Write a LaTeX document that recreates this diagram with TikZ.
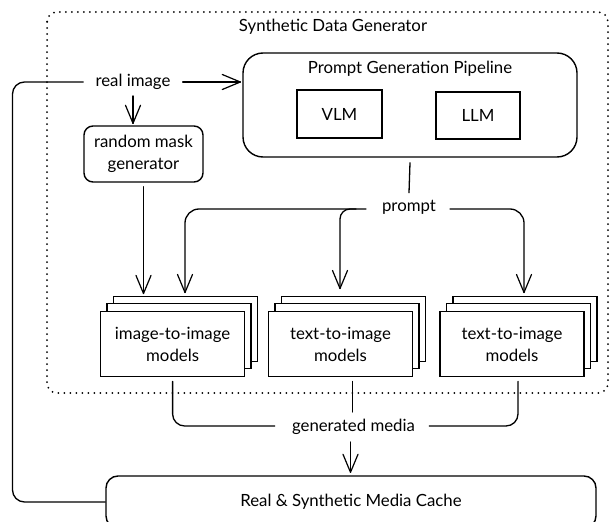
\documentclass[tikz,border=0pt]{standalone}
\usepackage{fontspec}
\setmainfont{Lato}
\usetikzlibrary{calc}
\newcommand\lblsize{\fontsize{16.8}{22}\selectfont}
\begin{document}
\begin{tikzpicture}[x=1pt,y=-1pt,
  line/.style={line width=1.3pt, line join=round, line cap=round},
  vhead/.pic={\draw[line width=1.2pt, line cap=round, line join=round] (-18,-7.5) -- (0,0) -- (-18,7.5);},
  txt/.style={font=\lblsize, inner sep=0pt, text=black},
  rbox/.style={draw, line width=1.4pt, rounded corners=9pt, align=center, font=\lblsize, inner sep=0pt},
  sqbox/.style={draw, line width=1.4pt, align=center, font=\lblsize, inner sep=0pt},
  stackbox/.style={draw, line width=1.4pt, fill=white, minimum width=144pt, minimum height=65pt, inner sep=0pt, align=center, font=\lblsize},
]
\clip (0,0) rectangle (611,522);
\useasboundingbox (0,0) rectangle (611,522);

% outer dotted region
\draw[line width=2pt, line cap=round, dash pattern=on 0pt off 6pt, rounded corners=10pt]
  (47,12) rectangle (608,393);
\node[txt] (sdg) at (333,27) {Synthetic Data Generator};

% prompt generation pipeline
\node[rbox, rounded corners=20pt, minimum width=334pt, minimum height=104pt] (pgp) at (410,105) {};
\node[txt] (pgptitle) at (410,69) {Prompt Generation Pipeline};
\node[sqbox, minimum width=85pt, minimum height=48pt] (vlm) at (339.5,114) {VLM};
\node[sqbox, minimum width=84pt, minimum height=47pt] (llm) at (478,115.5) {LLM};

% inputs
\node[txt] (real) at (133,82) {real image};
\node[rbox, minimum width=119pt, minimum height=56pt] (mask) at (143.5,154) {random mask\\generator};

% model stacks
\foreach \n/\cx/\t in {i2i/172.6/image-to-image, tA/340.5/text-to-image, tB/512/text-to-image}{
  \node[stackbox] (\n-b) at (\cx+13,328.7) {};
  \node[stackbox] (\n-m) at (\cx+6.5,336.2) {};
  \node[stackbox] (\n) at (\cx,344.2) {\t\\models};
}

% prompt fan-out
\node[txt] (prompt) at (409,207) {prompt};
\coordinate (pgpout) at ($(pgp.south)+(0,5)$);
\coordinate (pin) at ($(prompt.north)+(0,-7)$);
\draw[line] (pgpout) -- (pin);
\coordinate (pL) at ($(prompt.west)+(-16,2)$);
\coordinate (pM) at ($(prompt.west)+(-26,2)$);
\coordinate (pR) at ($(prompt.east)+(14,2)$);
\coordinate (tipL) at ($(i2i-b.north -| 185,0)+(0,-3)$);
\coordinate (tipM) at ($(tA-b.north -| 340,0)+(0,-7)$);
\coordinate (tipR) at ($(tB-b.north -| 524,0)+(0,-3)$);
\draw[line, rounded corners=14pt] (pL) -- (pL -| tipL) -- (tipL);
\draw[line, rounded corners=10pt] (pM) -- (pM -| tipM) -- (tipM);
\draw[line, rounded corners=14pt] (pR) -- (pR -| tipR) -- (tipR);
\pic[rotate=-90] at (tipL) {vhead};
\pic[rotate=-90] at (tipM) {vhead};
\pic[rotate=-90] at (tipR) {vhead};

% real image paths
\coordinate (realout) at ($(real.east)+(12,0)$);
\coordinate (realtip) at ($(realout -| pgp.west)+(-2,0)$);
\draw[line] (realout) -- (realtip);
\pic at (realtip) {vhead};
\coordinate (realdown) at ($(real.south)+(0,6)$);
\coordinate (masktip) at ($(realdown |- mask.north)+(0,-2)$);
\draw[line] (realdown) -- (masktip);
\pic[rotate=-90] at (masktip) {vhead};
\coordinate (maskout) at ($(mask.south)+(0,4)$);
\coordinate (maskin) at ($(mask.south |- i2i-b.north)+(0,-2)$);
\draw[line] (maskout) -- (maskin);
\pic[rotate=-90] at (maskin) {vhead};

% generated media
\node[txt] (gen) at (353.5,427) {generated media};
\coordinate (gL) at ($(gen.west)+(-17,-1)$);
\coordinate (gR) at ($(gen.east)+(14,-1)$);
\draw[line, rounded corners=12pt] ($(i2i.south)+(0,4)$) |- (gL);
\draw[line, rounded corners=12pt] ($(tB.south)+(6,4)$) |- (gR);
\draw[line] ($(tA.south)+(12,4)$) -- ($(gen.north)+(-1,-7)$);

% cache
\node[rbox, rounded corners=12pt, minimum width=490pt, minimum height=52pt] (cache) at (351,502) {Real \& Synthetic Media Cache};
\coordinate (genout) at ($(gen.south)+(-3,7)$);
\coordinate (cachetip) at ($(genout |- cache.north)+(0,-3)$);
\draw[line] (genout) -- (cachetip);
\pic[rotate=-90] at (cachetip) {vhead};

% feedback loop
\coordinate (loopB) at (12.5,502);
\coordinate (loopT) at (12.5,82);
\draw[line, rounded corners=12pt] (cache.west) -- (loopB) -- (loopT) -- ($(real.west)+(-12,0)$);
\end{tikzpicture}
\end{document}
